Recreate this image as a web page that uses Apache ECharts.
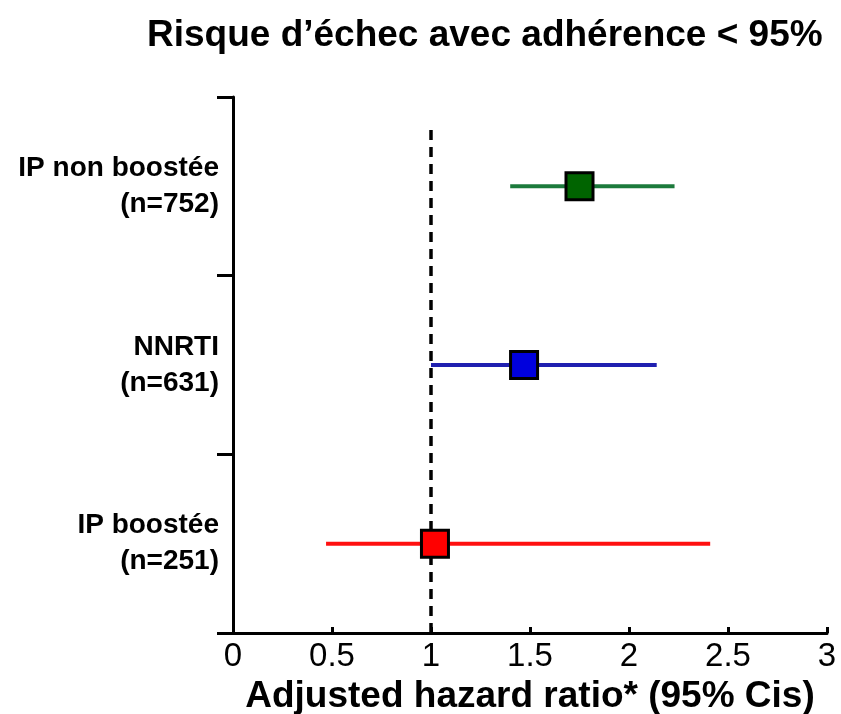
<!DOCTYPE html>
<html><head><meta charset="utf-8">
<script src="https://cdn.jsdelivr.net/npm/echarts@6/dist/echarts.min.js"></script>
<style>html,body{margin:0;padding:0;background:#fff}#c{width:841px;height:714px}</style>
</head><body><div id="c"></div>
<script>
var categories = ['IP non boostée\n(n=752)', 'NNRTI\n(n=631)', 'IP boostée\n(n=251)'];
var hazardRatio = [1.75, 1.47, 1.02];
var ciLow = [1.40, 1.00, 0.47];
var ciHigh = [2.23, 2.14, 2.41];
var lineColors = ['#1c7a3c', '#2020b0', '#ff1010'];
var markerColors = ['#006400', '#0000dd', '#ff0000'];
var xTicks = [0, 0.5, 1, 1.5, 2, 2.5, 3];
var refLine = [[1, 0], [1, 2.83]];

var font = "'Liberation Sans', Arial, sans-serif";
var series = [];
series.push({
  type: 'line', xAxisIndex: 0, yAxisIndex: 1, data: refLine, symbol: 'none', z: 1,
  lineStyle: {color: '#000', width: 3.5, type: [10, 7]}, silent: true
});
categories.forEach(function (c, i) {
  series.push({
    type: 'line', yAxisIndex: 0, data: [[ciLow[i], c], [ciHigh[i], c]], symbol: 'none', z: 2,
    lineStyle: {color: lineColors[i], width: 4}, silent: true
  });
});
series.push({
  type: 'scatter', yAxisIndex: 0, symbol: 'rect', symbolSize: 27, z: 5,
  data: categories.map(function (c, i) {
    return {value: [hazardRatio[i], c], itemStyle: {color: markerColors[i]}};
  }),
  itemStyle: {borderColor: '#000', borderWidth: 3, opacity: 1}
});

var chart = echarts.init(document.getElementById('c'));
chart.setOption({
  animation: false,
  backgroundColor: '#fff',
  title: {
    text: 'Risque d’échec avec adhérence < 95%', left: 142, top: 12,
    textStyle: {fontFamily: font, fontWeight: 'bold', fontSize: 37, color: '#000'}
  },
  grid: {left: 233, right: 14, top: 97, bottom: 81, containLabel: false, outerBoundsMode: 'none'},
  xAxis: {
    type: 'value', min: 0, max: 3, interval: 0.5,
    name: 'Adjusted hazard ratio* (95% Cis)', nameLocation: 'middle', nameGap: 40,
    nameTextStyle: {fontFamily: font, fontWeight: 'bold', fontSize: 37, color: '#000'},
    axisLine: {show: true, lineStyle: {color: '#000', width: 3}},
    axisTick: {show: true, inside: true, length: 6, lineStyle: {color: '#000', width: 3}},
    splitLine: {show: false},
    axisLabel: {
      margin: 7, fontFamily: font, fontSize: 33, color: '#000',
      formatter: function (v) { return xTicks.indexOf(v) >= 0 ? String(v) : ''; }
    }
  },
  yAxis: [{
    type: 'category', data: categories, inverse: true, boundaryGap: true,
    axisLine: {show: true, lineStyle: {color: '#000', width: 3}},
    axisTick: {show: true, inside: false, length: 16, lineStyle: {color: '#000', width: 3}},
    splitLine: {show: false},
    axisLabel: {
      margin: 14, fontFamily: font, fontWeight: 'bold', fontSize: 28, color: '#000',
      lineHeight: 36, align: 'right'
    }
  }, {
    type: 'value', min: 0, max: 3, show: false
  }],
  series: series
});
</script>
</body></html>
